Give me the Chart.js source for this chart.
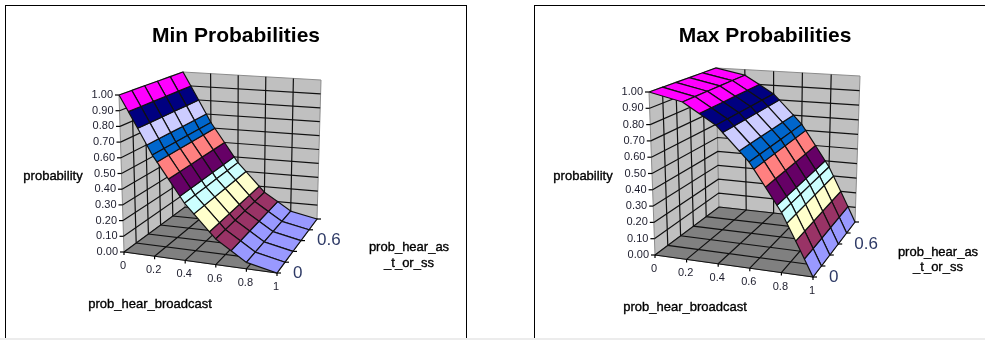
<!DOCTYPE html>
<html>
<head>
<meta charset="utf-8">
<title>Min and Max Probabilities</title>
<style>
  html, body { margin: 0; padding: 0; background: #fff; width: 985px; height: 340px; overflow: hidden; }
  .frame { position: absolute; top: 5px; width: 462px; height: 340px; border: 1px solid #000; box-sizing: border-box; background: #fff; }
  .frame canvas { position: absolute; left: 0; top: 0; }
  #minFrame { left: 5px; }
  #maxFrame { left: 534px; }
  .strip { position: absolute; left: 0; top: 338px; width: 985px; height: 2px; background: #ececec; }
</style>
<script src="https://cdn.jsdelivr.net/npm/chart.js@4/dist/chart.umd.min.js"></script>
</head>
<body>
<div class="frame" id="minFrame"><canvas id="minChart" width="460" height="333"></canvas></div>
<div class="frame" id="maxFrame"><canvas id="maxChart" width="460" height="333"></canvas></div>
<div class="strip"></div>
<script>
// Axis categories and tick labels
const broadcastValues = [0, 0.2, 0.4, 0.6, 0.8, 1];
const broadcastLabels = ['0', '0.2', '0.4', '0.6', '0.8', '1'];
const hearAsValues = [0, 0.2, 0.4, 0.6, 0.8, 1];
const hearAsLabels = ['0', '', '', '0.6', '', ''];
const probabilityValues = [0, 0.1, 0.2, 0.3, 0.4, 0.5, 0.6, 0.7, 0.8, 0.9, 1];
const probabilityLabels = ['0.00', '0.10', '0.20', '0.30', '0.40', '0.50', '0.60', '0.70', '0.80', '0.90', '1.00'];

// Surface heights: one row per prob_hear_as_t_or_ss value, one column per prob_hear_broadcast value
const minProbabilities = [
  [1.00, 0.64, 0.36, 0.16, 0.04, 0.00],
  [1.00, 0.64, 0.36, 0.16, 0.04, 0.00],
  [1.00, 0.64, 0.36, 0.16, 0.04, 0.00],
  [1.00, 0.64, 0.36, 0.16, 0.04, 0.00],
  [1.00, 0.64, 0.36, 0.16, 0.04, 0.00],
  [1.00, 0.64, 0.36, 0.16, 0.04, 0.00]
];
const maxProbabilities = [
  [1.00, 0.96, 0.84, 0.64, 0.36, 0.00],
  [1.00, 0.96, 0.84, 0.64, 0.36, 0.00],
  [1.00, 0.96, 0.84, 0.64, 0.36, 0.00],
  [1.00, 0.96, 0.84, 0.64, 0.36, 0.00],
  [1.00, 0.96, 0.84, 0.64, 0.36, 0.00],
  [1.00, 0.96, 0.84, 0.64, 0.36, 0.00]
];

// One colour for every 0.1 band of the surface, lowest first
const bandColours = ['#9999FF', '#993366', '#FFFFCC', '#CCFFFF', '#660066',
                     '#FF8080', '#0066CC', '#CCCCFF', '#000080', '#FF00FF'];

// Box corners on the page: floor then top; F = front, B = back, L = left, R = right
const minBox = {
  floor: { FL: [124, 252], FR: [277, 273], BL: [185, 207], BR: [317, 219] },
  top:   { FL: [119, 95],  FR: [279, 111], BL: [183, 72],  BR: [321, 80] }
};
const maxBox = {
  floor: { FL: [655, 255], FR: [813, 277], BL: [719, 207], BR: [855, 222] },
  top:   { FL: [649, 92],  FR: [815, 109], BL: [716, 68],  BR: [860, 76] }
};

// Maps broadcast / hear-as / probability values onto the plane of the chart's scales
function project(box, x, y, z) {
  const mix = (face, i) =>
    (1 - x) * (1 - y) * face.FL[i] + x * (1 - y) * face.FR[i] +
    (1 - x) * y * face.BL[i] + x * y * face.BR[i];
  return { x: mix(box.floor, 0) * (1 - z) + mix(box.top, 0) * z,
           y: mix(box.floor, 1) * (1 - z) + mix(box.top, 1) * z };
}

function polygon(box, corners, fillColour, lineColour, width) {
  const pts = corners.map(c => project(box, c.x, c.y, c.z));
  pts.push(pts[0]);
  return { data: pts, showLine: true, fill: 'shape', backgroundColor: fillColour,
           borderColor: lineColour, borderWidth: width, pointRadius: 0, tension: 0, clip: false };
}

function line(points, colour, width) {
  return { data: points, showLine: true, fill: false, borderColor: colour,
           borderWidth: width, pointRadius: 0, tension: 0, clip: false };
}

// Keeps the part of a polygon where edge(vertex) >= 0
function clipPolygon(vertices, edge) {
  const out = [];
  vertices.forEach((a, i) => {
    const b = vertices[(i + 1) % vertices.length];
    const da = edge(a), db = edge(b);
    if (da >= 0) out.push(a);
    if ((da > 0 && db < 0) || (da < 0 && db > 0)) {
      const t = da / (da - db);
      out.push({ x: a.x + (b.x - a.x) * t, y: a.y + (b.y - a.y) * t, z: a.z + (b.z - a.z) * t });
    }
  });
  return out;
}

function buildMarks(box, heights) {
  const marks = [];
  const wallLine = '#8c8c8c', grid = '#111', gridWidth = 1.2;

  // Walls and floor
  marks.push(polygon(box, [{x:0,y:0,z:0},{x:0,y:0,z:1},{x:0,y:1,z:1},{x:0,y:1,z:0}], '#C0C0C0', wallLine, 1));
  marks.push(polygon(box, [{x:0,y:1,z:0},{x:0,y:1,z:1},{x:1,y:1,z:1},{x:1,y:1,z:0}], '#C0C0C0', wallLine, 1));
  marks.push(polygon(box, [{x:0,y:0,z:0},{x:1,y:0,z:0},{x:1,y:1,z:0},{x:0,y:1,z:0}], '#808080', '#808080', 1));

  // Gridlines on the walls and floor
  probabilityValues.forEach(z => {
    if (z === 1) return;
    marks.push(line([project(box,0,0,z), project(box,0,1,z), project(box,1,1,z)], grid, gridWidth));
  });
  hearAsValues.forEach(y => {
    if (y > 0 && y < 1) marks.push(line([project(box,0,y,1), project(box,0,y,0), project(box,1,y,0)], grid, gridWidth));
    if (y === 0) marks.push(line([project(box,0,0,0), project(box,1,0,0)], grid, gridWidth));
  });
  broadcastValues.forEach(x => {
    if (x > 0 && x < 1) marks.push(line([project(box,x,0,0), project(box,x,1,0), project(box,x,1,1)], grid, gridWidth));
  });

  // Tick marks on the three axes
  probabilityValues.forEach(z => {
    const p = project(box, 0, 0, z);
    marks.push(line([{ x: p.x - 4, y: p.y }, p], '#000', gridWidth));
  });
  broadcastValues.forEach(x => {
    const p = project(box, x, 0, 0);
    marks.push(line([p, { x: p.x, y: p.y + 3 }], '#000', gridWidth));
  });
  hearAsValues.forEach(y => {
    const p = project(box, 1, y, 0);
    marks.push(line([p, { x: p.x + 4, y: p.y }], '#000', gridWidth));
  });

  // Surface cells, back to front, each cut along the 0.1 colour bands
  for (let j = hearAsValues.length - 2; j >= 0; j--) {
    for (let i = 0; i < broadcastValues.length - 1; i++) {
      const cell = [
        { x: broadcastValues[i],     y: hearAsValues[j],     z: heights[j][i] },
        { x: broadcastValues[i + 1], y: hearAsValues[j],     z: heights[j][i + 1] },
        { x: broadcastValues[i + 1], y: hearAsValues[j + 1], z: heights[j + 1][i + 1] },
        { x: broadcastValues[i],     y: hearAsValues[j + 1], z: heights[j + 1][i] }
      ];
      bandColours.forEach((colour, b) => {
        const lo = b / 10, hi = (b + 1) / 10;
        let piece = clipPolygon(cell, v => v.z - lo);
        if (piece.length >= 3) piece = clipPolygon(piece, v => hi - v.z);
        if (piece.length >= 3) marks.push(polygon(box, piece, colour, '#111', gridWidth));
      });
    }
  }
  return marks;
}

// Tick labels and axis titles, placed through the chart's own scales
const axisText = {
  id: 'axisText',
  afterDraw(chart, args, opts) {
    const { ctx, scales } = chart;
    const box = opts.box;
    const put = (text, x, y, font, align, colour, weight) => {
      const px = scales.x.getPixelForValue(x), py = scales.y.getPixelForValue(y);
      ctx.font = font;
      ctx.textAlign = align;
      ctx.textBaseline = 'middle';
      ctx.fillStyle = colour;
      ctx.fillText(text, px, py);
      if (weight) {
        // A hairline outline gives the axis titles their medium weight
        ctx.strokeStyle = colour;
        ctx.lineWidth = weight;
        ctx.strokeText(text, px, py);
      }
    };
    ctx.save();
    const small = '11px "Liberation Sans"';
    const titleFont = '13px "Liberation Sans"';
    probabilityValues.forEach((z, k) => {
      const p = project(box, 0, 0, z);
      put(probabilityLabels[k], p.x - 6, p.y, small, 'right', '#1c1c2c');
    });
    broadcastValues.forEach((x, k) => {
      const p = project(box, x, 0, 0);
      put(broadcastLabels[k], p.x - 1, p.y + 14, small, 'center', '#1c1c2c');
    });
    hearAsValues.forEach((y, k) => {
      const p = project(box, 1, y, 0);
      put(hearAsLabels[k], p.x + 16, p.y, '17px "Liberation Sans"', 'left', '#2e3a66');
    });
    opts.titles.forEach(t => put(t.text, t.x, t.y, titleFont, 'center', '#000', 0.35));
    ctx.restore();
  }
};

function drawChart(canvasId, titleText, box, heights, left, titles) {
  new Chart(document.getElementById(canvasId), {
    type: 'scatter',
    data: { datasets: buildMarks(box, heights).reverse() },
    plugins: [axisText],
    options: {
      responsive: false,
      animation: false,
      events: [],
      scales: {
        x: { type: 'linear', display: false, min: left, max: left + 460 },
        y: { type: 'linear', display: false, min: 49.2, max: 339, reverse: true }
      },
      plugins: {
        legend: { display: false },
        tooltip: { enabled: false },
        title: {
          display: true,
          text: titleText,
          color: '#000',
          font: { family: '"Liberation Sans"', size: 21, weight: 'bold', lineHeight: 1.2 },
          padding: { top: 18, bottom: 0 }
        },
        axisText: { box, titles }
      }
    }
  });
}

drawChart('minChart', 'Min Probabilities', minBox, minProbabilities, 6, [
  { text: 'probability', x: 53, y: 176 },
  { text: 'prob_hear_broadcast', x: 150, y: 304 },
  { text: 'prob_hear_as', x: 409, y: 247 },
  { text: '_t_or_ss', x: 409, y: 263 }
]);
drawChart('maxChart', 'Max Probabilities', maxBox, maxProbabilities, 535, [
  { text: 'probability', x: 583, y: 176 },
  { text: 'prob_hear_broadcast', x: 685, y: 307 },
  { text: 'prob_hear_as', x: 938, y: 252 },
  { text: '_t_or_ss', x: 938, y: 267 }
]);
</script>
</body>
</html>
